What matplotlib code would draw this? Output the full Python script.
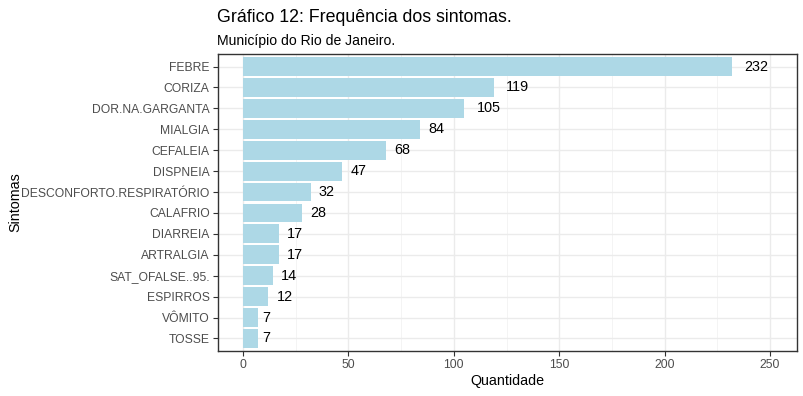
import matplotlib.pyplot as plt
from matplotlib.ticker import MultipleLocator

plt.rcParams['font.family'] = ['Liberation Sans', 'DejaVu Sans']

# Data
sintomas = ['FEBRE', 'CORIZA', 'DOR.NA.GARGANTA', 'MIALGIA', 'CEFALEIA', 'DISPNEIA',
            'DESCONFORTO.RESPIRATÓRIO', 'CALAFRIO', 'DIARREIA', 'ARTRALGIA',
            'SAT_OFALSE..95.', 'ESPIRROS', 'VÔMITO', 'TOSSE']
quantidade = [232, 119, 105, 84, 68, 47, 32, 28, 17, 17, 14, 12, 7, 7]

fig = plt.figure(figsize=(8.04, 3.96), dpi=100)
ax = fig.add_axes([218 / 804, 1 - 351 / 396, (797 - 218) / 804, (351 - 54) / 396])

y = list(range(len(sintomas)))
ax.barh(y, quantidade, height=0.9, color='#ADD8E6', zorder=2)

# value labels (hjust = -0.5 style)
fs_lab = 10.4
for yi, v in zip(y, quantidade):
    off = 0.5 * len(str(v)) * 0.556 * fs_lab
    ax.annotate(str(v), (v, yi), xytext=(off, 0), textcoords='offset points',
                ha='left', va='center', fontsize=fs_lab, color='black', zorder=3)

ax.set_xlim(-11.9, 262.8)
ax.set_ylim(len(sintomas) - 0.4, -0.6)
ax.set_yticks(y)
ax.set_yticklabels(sintomas)
ax.xaxis.set_major_locator(MultipleLocator(50))
ax.xaxis.set_minor_locator(MultipleLocator(25))

ax.grid(which='major', color='#EBEBEB', linewidth=1.0, zorder=0)
ax.grid(which='minor', axis='x', color='#F2F2F2', linewidth=0.6, zorder=0)
ax.set_axisbelow(True)
for s in ax.spines.values():
    s.set_color('#333333')
    s.set_linewidth(1.0)

ax.tick_params(axis='both', which='major', colors='#333333', labelcolor='#4D4D4D',
               labelsize=8.7, length=3.5, width=0.8, pad=2.5)
ax.tick_params(axis='x', which='minor', length=0)

ax.set_xlabel('Quantidade', fontsize=10.3, labelpad=2)
ax.set_ylabel('Sintomas', fontsize=10.3)
ax.yaxis.set_label_coords((22 - 218) / 579, 0.5)

fig.text(217 / 804, 1 - 18 / 396, 'Gráfico 12: Frequência dos sintomas.', fontsize=12.8,
         ha='left', va='center')
fig.text(217 / 804, 1 - 41 / 396, 'Município do Rio de Janeiro.', fontsize=10.1,
         ha='left', va='center')

fig.savefig('out.png', dpi=100)
